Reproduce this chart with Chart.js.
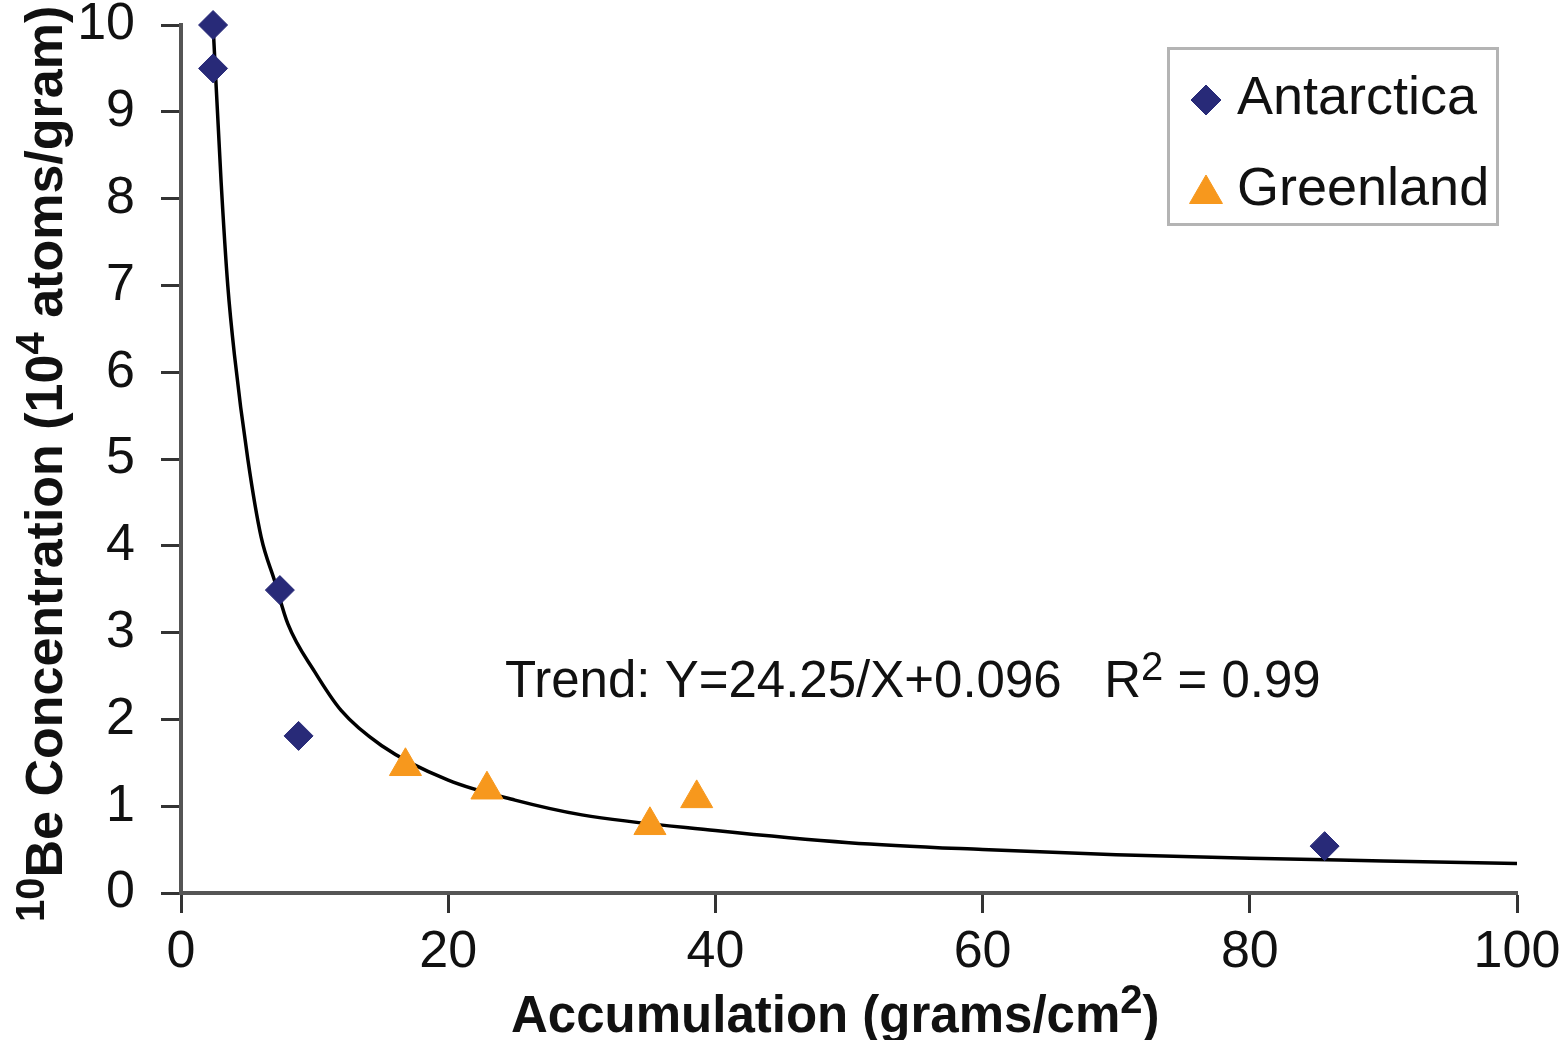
<!DOCTYPE html>
<html>
<head>
<meta charset="utf-8">
<title>10Be concentration vs accumulation</title>
<script src="https://cdn.jsdelivr.net/npm/chart.js@4.4.1/dist/chart.umd.min.js"></script>
<style>
  html, body { margin: 0; padding: 0; background: #fff; }
  #wrap { width: 1563px; height: 1040px; }
</style>
</head>
<body>
<div id="wrap"><canvas id="be-chart" width="1563" height="1040"></canvas></div>
<script>
/* 10Be concentration vs accumulation — scatter + trend curve */

const ANTARCTICA_X = [2.4, 2.4, 7.4, 8.8, 85.6];
const ANTARCTICA_Y = [10.0, 9.5, 3.49, 1.81, 0.54];

const GREENLAND_X = [16.8, 22.9, 35.1, 38.6];
const GREENLAND_Y = [1.46, 1.19, 0.78, 1.09];

// trend curve
const TREND_X = [2.4, 3, 3.5, 4, 5, 6, 7, 8, 10, 12, 15, 20, 25, 30, 40, 50, 60, 70, 80, 90, 100];
const TREND_Y = [10.0, 8.2, 7.0, 6.2, 5.0, 4.1, 3.6, 3.1, 2.55, 2.1, 1.7, 1.3, 1.07, 0.9, 0.72, 0.58, 0.5, 0.44, 0.4, 0.37, 0.34];

const X_TICKS = [0, 20, 40, 60, 80, 100];
const Y_TICKS = [0, 1, 2, 3, 4, 5, 6, 7, 8, 9, 10];

const SERIES_NAMES = ['Antarctica', 'Greenland'];
const TREND_LABEL = ['Trend: Y=24.25/X+0.096   R', '2', ' = 0.99'];

const FONT = "'Liberation Sans', Arial, Helvetica, sans-serif";
const NAVY = '#282a78';
const ORANGE = '#f7981d';

const toPoints = (xs, ys) => xs.map((x, i) => ({ x: x, y: ys[i] }));

// draw a row of text pieces (for superscripts)
function drawRuns(ctx, runs, x, y) {
  runs.forEach(r => {
    ctx.font = (r.bold ? 'bold ' : '') + r.size + 'px ' + FONT;
    ctx.fillText(r.text, x, y - (r.raise || 0));
    x += ctx.measureText(r.text).width;
  });
}

function marker(ctx, style, radius, color, x, y) {
  ctx.save();
  ctx.fillStyle = color;
  ctx.strokeStyle = color;
  ctx.lineWidth = 1;
  Chart.helpers.drawPoint(ctx, { pointStyle: style, radius: radius, rotation: 0, borderWidth: 1 }, x, y);
  ctx.restore();
}

const decorPlugin = {
  id: 'decor',
  afterDraw(chart) {
    const ctx = chart.ctx;
    ctx.save();
    ctx.fillStyle = '#111';
    ctx.textBaseline = 'alphabetic';
    ctx.textAlign = 'left';

    // x axis title
    drawRuns(ctx, [
      { text: 'Accumulation (grams/cm', size: 51, bold: true },
      { text: '2', size: 40, bold: true, raise: 19 },
      { text: ')', size: 51, bold: true }
    ], 511, 1032);

    // y axis title (rotated)
    ctx.save();
    ctx.translate(62, 922);
    ctx.rotate(-Math.PI / 2);
    drawRuns(ctx, [
      { text: '10', size: 40, bold: true, raise: 18 },
      { text: 'Be Concentration (10', size: 52, bold: true },
      { text: '4', size: 40, bold: true, raise: 18 },
      { text: ' atoms/gram)', size: 52, bold: true }
    ], 0, 0);
    ctx.restore();

    // trend equation
    drawRuns(ctx, [
      { text: TREND_LABEL[0], size: 51 },
      { text: TREND_LABEL[1], size: 40, raise: 17 },
      { text: TREND_LABEL[2], size: 51 }
    ], 505, 697);

    // legend box
    ctx.strokeStyle = '#b4b4b4';
    ctx.lineWidth = 3;
    ctx.strokeRect(1168.5, 48.5, 329, 176);
    marker(ctx, 'rectRot', 15, NAVY, 1206, 100);
    marker(ctx, 'triangle', 19, ORANGE, 1206, 194);
    ctx.fillStyle = '#111';
    ctx.font = '54px ' + FONT;
    ctx.fillText(SERIES_NAMES[0], 1237, 114);
    ctx.fillText(SERIES_NAMES[1], 1237, 205);
    ctx.restore();
  }
};

const tickFont = { family: FONT, size: 52, lineHeight: 1.0 };

new Chart(document.getElementById('be-chart'), {
  type: 'scatter',
  data: {
    datasets: [
      {
        label: SERIES_NAMES[0],
        data: toPoints(ANTARCTICA_X, ANTARCTICA_Y),
        pointStyle: 'rectRot',
        pointRadius: 14.5,
        backgroundColor: NAVY,
        borderColor: NAVY,
        borderWidth: 1,
        clip: false,
        order: 1
      },
      {
        label: SERIES_NAMES[1],
        data: toPoints(GREENLAND_X, GREENLAND_Y),
        pointStyle: 'triangle',
        pointRadius: 18.5,
        backgroundColor: ORANGE,
        borderColor: ORANGE,
        borderWidth: 1,
        clip: false,
        order: 2
      },
      {
        label: 'Trend',
        data: toPoints(TREND_X, TREND_Y),
        showLine: true,
        pointRadius: 0,
        borderColor: '#000',
        borderWidth: 3.5,
        cubicInterpolationMode: 'monotone',
        clip: false,
        order: 3
      }
    ]
  },
  options: {
    responsive: false,
    animation: false,
    events: [],
    layout: { padding: { left: 0, top: 25, right: 46, bottom: 0 } },
    plugins: {
      legend: { display: false },
      tooltip: { enabled: false }
    },
    scales: {
      x: {
        type: 'linear',
        min: 0,
        max: 100,
        afterBuildTicks: s => { s.ticks = X_TICKS.map(v => ({ value: v })); },
        afterFit: s => { s.height = 147; s.paddingLeft = 0; s.paddingRight = 0; },
        grid: { drawOnChartArea: false, drawTicks: true, tickLength: 20, tickColor: '#333', tickWidth: 3 },
        border: { display: true, color: '#555', width: 4 },
        ticks: { font: tickFont, color: '#111', padding: 14, maxRotation: 0 }
      },
      y: {
        type: 'linear',
        min: 0,
        max: 10,
        afterBuildTicks: s => { s.ticks = Y_TICKS.map(v => ({ value: v })); },
        afterFit: s => { s.width = 181; s.paddingTop = 0; s.paddingBottom = 0; },
        grid: { drawOnChartArea: false, drawTicks: true, tickLength: 20, tickColor: '#333', tickWidth: 3 },
        border: { display: true, color: '#555', width: 4 },
        ticks: { font: tickFont, color: '#111', padding: 26 }
      }
    }
  },
  plugins: [decorPlugin]
});
</script>
</body>
</html>
